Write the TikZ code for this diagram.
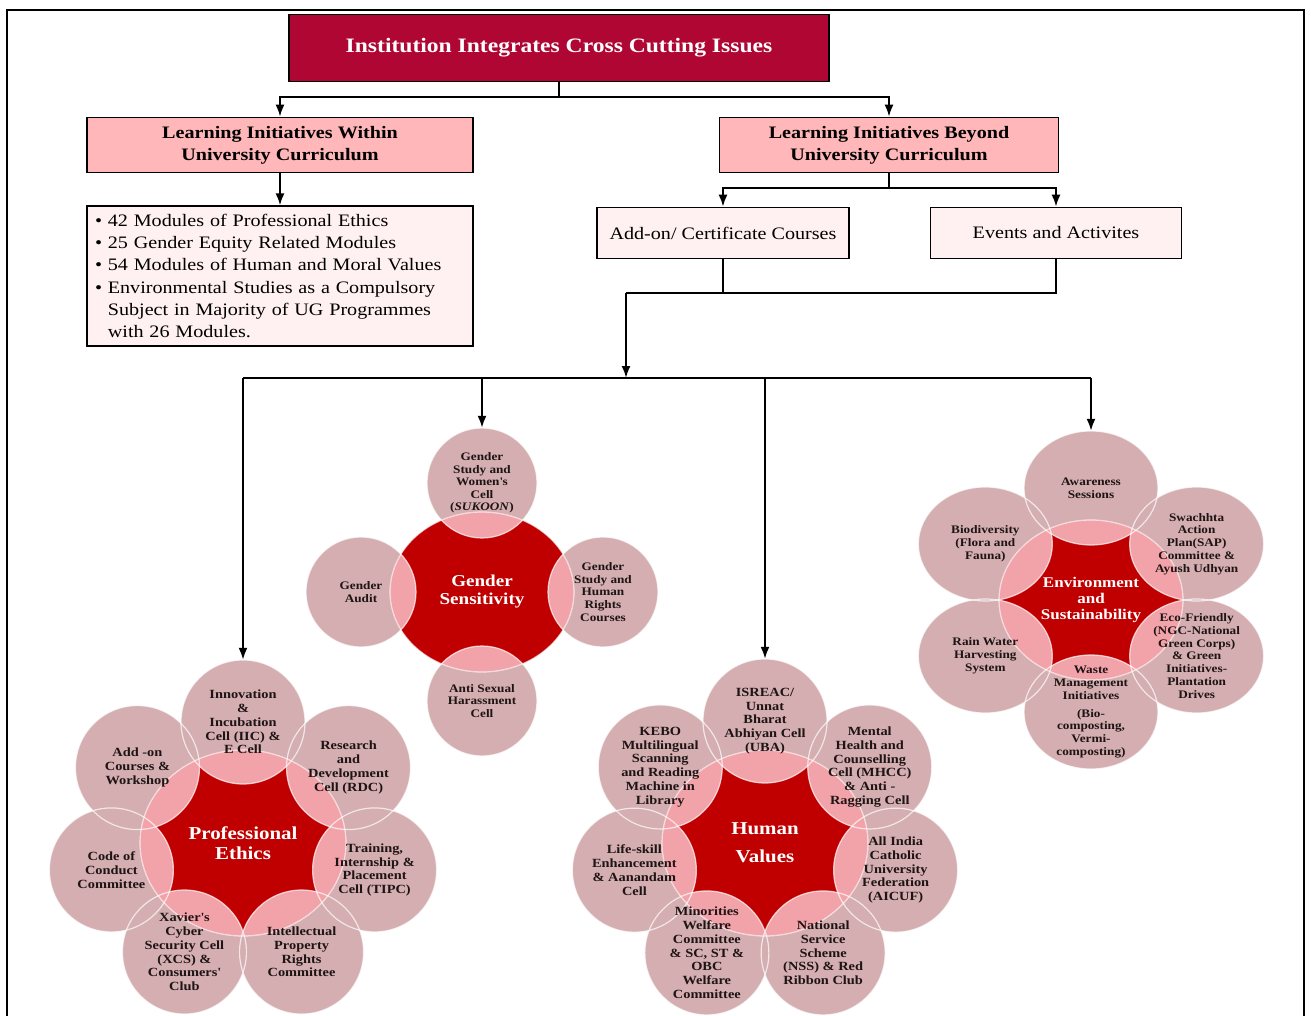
\documentclass[tikz,border=0pt]{standalone}
\usepackage{fontspec}
\setmainfont[FakeStretch=1.15]{Liberation Serif}
\usetikzlibrary{arrows.meta,shapes.geometric,calc}

\definecolor{titlered}{HTML}{AF0633}
\definecolor{headpink}{HTML}{FFB7B9}
\definecolor{boxpink}{HTML}{FFF1F1}
\definecolor{satrose}{HTML}{D4AEB1}
\definecolor{corered}{HTML}{C00000}
\definecolor{overpink}{HTML}{F2A3AA}
\definecolor{sattextcol}{HTML}{1E1414}

\tikzset{
  titlebox/.style={draw, line width=1.8pt, fill=titlered, text=white, minimum width=540pt, minimum height=67pt, font=\bfseries\fontsize{20.5}{24}\selectfont},
  headbox/.style={draw, line width=1.6pt, fill=headpink, minimum height=55pt, align=center, font=\bfseries\fontsize{17.5}{22}\selectfont},
  listbox/.style={draw, line width=1.6pt, fill=boxpink, minimum width=386pt, minimum height=138pt, inner sep=8pt, text width=370pt, align=left, font=\fontsize{17.5}{22.2}\selectfont},
  subbox/.style={draw, line width=1.6pt, fill=boxpink, minimum height=51pt, font=\fontsize{17.5}{21}\selectfont},
  conn/.style={line width=2pt},
  arr/.style={conn, -{Latex[length=12pt,width=9pt]}},
  frame/.style={line width=1.6pt},
  satring/.style={draw=white, draw opacity=0.7, line width=1.2pt},
  sattext/.style={ellipse, inner sep=0pt, align=center, text=sattextcol, font=\bfseries\fontsize{12.5}{13.8}\selectfont},
  coretext/.style={align=center, text=white, font=\bfseries\fontsize{18.2}{20}\selectfont}
}

\begin{document}
\begin{tikzpicture}[x=1pt, y=-1pt]
    \useasboundingbox (0,0) rectangle (1311,1016);
    \draw[frame] (7,1016) -- (7,10) -- (1304,10) -- (1304,1016);

    % upper tree
    \node[titlebox] (title) at (559,48) {Institution Integrates Cross Cutting Issues};
    \node[headbox, minimum width=386pt] (within) at (280,145) {Learning Initiatives Within\\ University Curriculum};
    \node[headbox, minimum width=339pt] (beyond) at (889,145) {Learning Initiatives Beyond\\ University Curriculum};
    \node[listbox] (modules) at (280,276) {%
        \textbullet\ 42 Modules of Professional Ethics\\
        \textbullet\ 25 Gender Equity Related Modules\\
        \textbullet\ 54 Modules of Human and Moral Values\\
        \textbullet\ Environmental Studies as a Compulsory\\
        \hphantom{\textbullet\ }Subject in Majority of UG Programmes\\
        \hphantom{\textbullet\ }with 26 Modules.};
    \node[subbox, minimum width=252pt] (addon) at (723,233) {Add-on/ Certificate Courses};
    \node[subbox, minimum width=251pt] (events) at (1056,233) {Events and Activites};
    \coordinate (join) at (626,293);
    \coordinate (hub) at (626,378);

    \draw[arr] (title.south) -- ++(0,15) -| (within.north);
    \draw[arr] (title.south) -- ++(0,15) -| (beyond.north);
    \draw[arr] (within.south) -- (modules.north);
    \draw[arr] (beyond.south) -- ++(0,15) -| (addon.north);
    \draw[arr] (beyond.south) -- ++(0,15) -| (events.north);
    \draw[conn] (addon.south) |- (join);
    \draw[conn] (events.south) |- (join);
    \draw[arr] (join) -- (hub);

    % Professional Ethics
    \coordinate (pe) at (243,843);
    \foreach \k in {0,...,6}
        \fill[satrose] ($(pe)+({90-\k*360/7}:135pt and 121pt)$) ellipse (62pt and 62pt);
    \fill[corered] (pe) ellipse (103pt and 93pt);
    \begin{scope}
        \clip (pe) ellipse (103pt and 93pt);
        \foreach \k in {0,...,6}
            \fill[overpink] ($(pe)+({90-\k*360/7}:135pt and 121pt)$) ellipse (62pt and 62pt);
    \end{scope}
    \draw[satring] (pe) ellipse (103pt and 93pt);
    \foreach \k in {0,...,6}
        \draw[satring] ($(pe)+({90-\k*360/7}:135pt and 121pt)$) ellipse (62pt and 62pt);
    \foreach \txt [count=\k from 0] in {{Innovation\\ \&\\ Incubation\\ Cell (IIC) \&\\ E Cell},
            {Research\\ and\\ Development\\ Cell (RDC)},
            {Training,\\ Internship \&\\ Placement\\ Cell (TIPC)},
            {Intellectual\\ Property\\ Rights\\ Committee},
            {Xavier\textquotesingle s\\ Cyber\\ Security Cell\\ (XCS) \&\\ Consumers\textquotesingle\\ Club},
            {Code of\\ Conduct\\ Committee},
            {Add -on\\ Courses \&\\ Workshop}}
        \node[sattext, minimum width=124pt, minimum height=124pt] (pe\k) at ($(pe)+({90-\k*360/7}:135pt and 121pt)$) {\txt};
    \node[coretext] (pelabel) at (pe) {Professional\\ Ethics};

    % Gender Sensitivity
    \coordinate (gs) at (482,592);
    \foreach \k in {0,...,3}
        \fill[satrose] ($(gs)+({90-\k*90}:121pt and 109pt)$) ellipse (55pt and 55pt);
    \fill[corered] (gs) ellipse (92pt and 80pt);
    \begin{scope}
        \clip (gs) ellipse (92pt and 80pt);
        \foreach \k in {0,...,3}
            \fill[overpink] ($(gs)+({90-\k*90}:121pt and 109pt)$) ellipse (55pt and 55pt);
    \end{scope}
    \draw[satring] (gs) ellipse (92pt and 80pt);
    \foreach \k in {0,...,3}
        \draw[satring] ($(gs)+({90-\k*90}:121pt and 109pt)$) ellipse (55pt and 55pt);
    \foreach \txt [count=\k from 0] in {{Gender\\ Study and\\ Women\textquotesingle s\\ Cell\\ (\textit{SUKOON})},
            {Gender\\ Study and\\ Human\\ Rights\\ Courses},
            {Anti Sexual\\ Harassment\\ Cell},
            {Gender\\ Audit}}
        \node[sattext, minimum width=110pt, minimum height=110pt, font=\bfseries\fontsize{11.5}{12.6}\selectfont] (gs\k) at ($(gs)+({90-\k*90}:121pt and 109pt)$) {\txt};
    \node[coretext, font=\bfseries\fontsize{16.6}{18}\selectfont] (gslabel) at (gs) {Gender\\ Sensitivity};

    % Human Values
    \coordinate (hv) at (765,843);
    \foreach \k in {0,...,6}
        \fill[satrose] ($(hv)+({90-\k*360/7}:134pt and 122pt)$) ellipse (62pt and 62pt);
    \fill[corered] (hv) ellipse (103pt and 93pt);
    \begin{scope}
        \clip (hv) ellipse (103pt and 93pt);
        \foreach \k in {0,...,6}
            \fill[overpink] ($(hv)+({90-\k*360/7}:134pt and 122pt)$) ellipse (62pt and 62pt);
    \end{scope}
    \draw[satring] (hv) ellipse (103pt and 93pt);
    \foreach \k in {0,...,6}
        \draw[satring] ($(hv)+({90-\k*360/7}:134pt and 122pt)$) ellipse (62pt and 62pt);
    \foreach \txt [count=\k from 0] in {{ISREAC/\\ Unnat\\ Bharat\\ Abhiyan Cell\\ (UBA)},
            {Mental\\ Health and\\ Counselling\\ Cell (MHCC)\\ \& Anti -\\ Ragging Cell},
            {All India\\ Catholic\\ University\\ Federation\\ (AICUF)},
            {National\\ Service\\ Scheme\\ (NSS) \& Red\\ Ribbon Club},
            {Minorities\\ Welfare\\ Committee\\ \& SC, ST \&\\ OBC\\ Welfare\\ Committee},
            {Life-skill\\ Enhancement\\ \& Aanandam\\ Cell},
            {KEBO\\ Multilingual\\ Scanning\\ and Reading\\ Machine in\\ Library}}
        \node[sattext, minimum width=124pt, minimum height=124pt] (hv\k) at ($(hv)+({90-\k*360/7}:134pt and 122pt)$) {\txt};
    \node[coretext, font=\bfseries\fontsize{18.2}{28}\selectfont] (hvlabel) at (hv) {Human\\ Values};

    % Environment and Sustainability
    \coordinate (en) at (1091,600);
    \foreach \k in {0,...,5}
        \fill[satrose] ($(en)+({90-\k*60}:122pt and 112pt)$) ellipse (67pt and 57pt);
    \fill[corered] (en) ellipse (92pt and 80pt);
    \begin{scope}
        \clip (en) ellipse (92pt and 80pt);
        \foreach \k in {0,...,5}
            \fill[overpink] ($(en)+({90-\k*60}:122pt and 112pt)$) ellipse (67pt and 57pt);
    \end{scope}
    \draw[satring] (en) ellipse (92pt and 80pt);
    \foreach \k in {0,...,5}
        \draw[satring] ($(en)+({90-\k*60}:122pt and 112pt)$) ellipse (67pt and 57pt);
    \foreach \txt [count=\k from 0] in {{Awareness\\ Sessions},
            {Swachhta\\ Action\\ Plan(SAP)\\ Committee \&\\ Ayush Udhyan},
            {Eco-Friendly\\ (NGC-National\\ Green Corps)\\ \& Green\\ Initiatives-\\ Plantation\\ Drives},
            {Waste\\ Management\\ Initiatives\\[5pt] (Bio-\\ composting,\\ Vermi-\\ composting)},
            {Rain Water\\ Harvesting\\ System},
            {Biodiversity\\ (Flora and\\ Fauna)}}
        \node[sattext, minimum width=134pt, minimum height=114pt, font=\bfseries\fontsize{11.5}{12.8}\selectfont] (en\k) at ($(en)+({90-\k*60}:122pt and 112pt)$) {\txt};
    \node[coretext, font=\bfseries\fontsize{14.8}{16}\selectfont] (enlabel) at (en) {Environment\\ and\\ Sustainability};

    % links to the four themes
    \draw[conn] (pe0.north |- hub) -- (en0.north |- hub);
    \foreach \c in {pe0,gs0,hv0,en0}
        \draw[arr] (\c.north |- hub) -- (\c.north);
\end{tikzpicture}
\end{document}
